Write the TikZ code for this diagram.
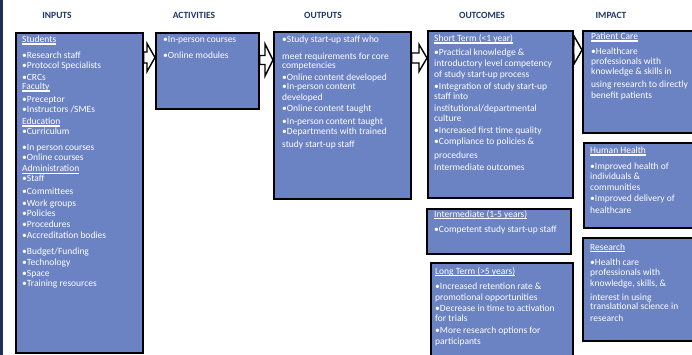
\documentclass[tikz,border=0pt]{standalone}
\usepackage{fontspec}
\setmainfont{Carlito}
\definecolor{boxblue}{RGB}{108,131,195}
\definecolor{navy}{RGB}{31,45,92}
\definecolor{hdrblue}{RGB}{31,56,100}
\newcommand\hdul[1]{\setbox0\hbox{#1}\rlap{\rule[-1.9pt]{\wd0}{1.4pt}}\box0}
\tikzset{
  box/.style={draw=black, line width=1.6pt, fill=boxblue, anchor=north west, inner sep=0pt},
  txt/.style={anchor=base west, inner sep=0pt, text=white, font=\fontsize{9.5}{10}\selectfont},
  hdr/.style={inner sep=0pt, text=hdrblue, font=\fontsize{9.5}{10}\selectfont\bfseries},
  barr/.style={draw=black, line width=1.4pt, fill=white, line join=miter}
}
\newcommand\boxlines[3]{\foreach \lnY/\lnT [count=\lnI] in {#3} {\node[txt] (#1-\lnI) at (#2,\lnY+3) {\lnT};}}
\newcommand\barrow[5]{%
  \coordinate (#1-a) at ([yshift=#3]#1.north east);
  \coordinate (#1-b) at (#2.west |- #1-a);
  \draw[barr] ([yshift=#4]#1-a) -- ([xshift=-8pt,yshift=#4]#1-b) -- ([xshift=-8pt,yshift=#5]#1-b) -- (#1-b)
     -- ([xshift=-8pt,yshift=-#5]#1-b) -- ([xshift=-8pt,yshift=-#4]#1-b) -- ([yshift=-#4]#1-a) -- cycle;}
\begin{document}
\begin{tikzpicture}[x=1pt,y=-1pt]
\useasboundingbox (0,0) rectangle (692,355);
\clip (0,0) rectangle (692,355);
\fill[white] (0,0) rectangle (692,355);
\fill[navy] (0,0) rectangle (2.5,355);
% headers
\node[hdr] (h1) at (57,15) {INPUTS};
\node[hdr] (h2) at (194,15) {ACTIVITIES};
\node[hdr] (h3) at (323,15) {OUTPUTS};
\node[hdr] (h4) at (482,15) {OUTCOMES};
\node[hdr] (h5) at (611,15) {IMPACT};
% boxes
\node[box, minimum width=127pt, minimum height=320pt] (inp) at (15,32) {};
\node[box, minimum width=103pt, minimum height=76pt] (act) at (155,32) {};
\node[box, minimum width=137pt, minimum height=167pt] (outp) at (273,31) {};
\node[box, minimum width=145pt, minimum height=167pt] (st) at (427,30) {};
\node[box, minimum width=144pt, minimum height=45pt] (im) at (426,208) {};
\node[box, minimum width=142pt, minimum height=110pt] (lt) at (430,262) {};
\node[box, minimum width=120pt, minimum height=102pt] (pc) at (582,30) {};
\node[box, minimum width=120pt, minimum height=85pt] (hh) at (583,142) {};
\node[box, minimum width=120pt, minimum height=103pt] (rs) at (582,237) {};
% arrows
\barrow{inp}{act}{-25.5pt}{5.5pt}{14pt}
\barrow{act}{outp}{-28pt}{4.5pt}{16pt}
\barrow{outp}{st}{-27pt}{5pt}{13.5pt}
\barrow{st}{pc}{-20pt}{5pt}{14pt}
% texts
\boxlines{inp}{22}{40/\hdul{Students}, 56/•Research staff, 66/•Protocol Specialists, 78/•CRCs, 87/\hdul{Faculty}, 100/•Preceptor, 110/{•Instructors /SMEs}, 122/\hdul{Education}, 132/•Curriculum, 148/•In person courses, 158/•Online courses, 169/\hdul{Administration}, 179/•Staff, 192/•Committees, 203/•Work groups, 213/•Policies, 224/•Procedures, 235/•Accreditation bodies, 251/{•Budget/Funding}, 262/•Technology, 273/•Space, 283/•Training resources}
\boxlines{act}{163}{40/•In-person courses, 56/•Online modules}
\boxlines{outp}{282}{40/•Study start-up staff who, 57/meet requirements for core, 66/competencies, 78/•Online content developed, 87/•In-person content, 98/developed, 109/•Online content taught, 122/•In-person content taught, 132/•Departments with trained, 145/study start-up staff}
\boxlines{st}{434}{39/\hdul{Short Term (<1 year)}, 53/•Practical knowledge \&, 64/introductory level competency, 75/of study start-up process, 87/•Integration of study start-up, 97/staff into, 109/{institutional/departmental}, 119/culture, 131/•Increased first time quality, 142/•Compliance to policies \&, 156/procedures, 168/Intermediate outcomes}
\boxlines{im}{434}{214/\hdul{Intermediate (1-5 years)}, 229/•Competent study start-up staff}
\boxlines{lt}{435}{271/\hdul{Long Term (>5 years)}, 286/•Increased retention rate \&, 297/promotional opportunities, 308/•Decrease in time to activation, 318/for trials, 330/•More research options for, 341/participants}
\boxlines{pc}{591}{37/\hdul{Patient Care}, 52/•Healthcare, 62/professionals with, 72/knowledge \& skills in, 85/using research to directly, 96/benefit patients}
\boxlines{hh}{590}{151/\hdul{Human Health}, 167/•Improved health of, 177/individuals \&, 187/communities, 198/•Improved delivery of, 210/healthcare}
\boxlines{rs}{590}{247/\hdul{Research}, 262/•Health care, 272/professionals with, 283/{knowledge, skills, \&}, 297/interest in using, 306/translational science in, 318/research}
\end{tikzpicture}
\end{document}
